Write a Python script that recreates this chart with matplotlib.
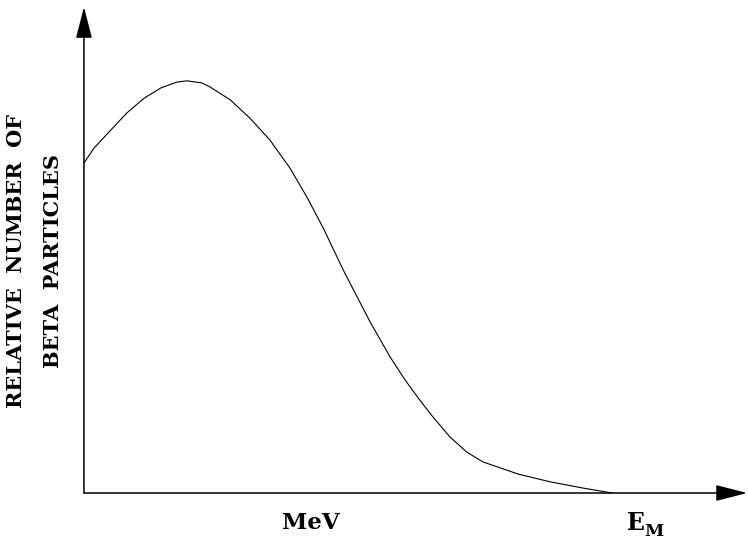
import matplotlib
matplotlib.use("Agg")
import matplotlib.pyplot as plt

# energy as fraction of E_M, relative number of beta particles (peak = 1)
energy = [0.000, 0.019, 0.051, 0.081, 0.114, 0.146, 0.176, 0.195, 0.223, 0.239,
          0.277, 0.314, 0.352, 0.390, 0.422, 0.453, 0.491, 0.542, 0.580, 0.608,
          0.636, 0.661, 0.693, 0.725, 0.756, 0.788, 0.822, 0.883, 0.945, 1.000]
counts = [0.799, 0.835, 0.879, 0.920, 0.956, 0.981, 0.995, 0.998, 0.993, 0.983,
          0.952, 0.908, 0.855, 0.787, 0.717, 0.642, 0.540, 0.414, 0.329, 0.274,
          0.225, 0.184, 0.136, 0.099, 0.075, 0.061, 0.046, 0.027, 0.012, 0.000]

ylabel_lines = ["RELATIVE  NUMBER  OF", "BETA  PARTICLES"]
xlabel = "MeV"
end_label = ("E", "M")

fig = plt.figure(figsize=(7.48, 5.41), dpi=100)
ax = fig.add_axes([0, 0, 1, 1])
ax.set_xlim(-0.159, 1.2576)
ax.set_ylim(-0.1162, 1.1937)
ax.axis("off")

font = dict(family="DejaVu Serif", fontweight="heavy", color="black")

# axes with arrow heads
arrow = dict(arrowstyle="-|>,head_length=1.95,head_width=0.5", mutation_scale=10,
             lw=1.1, color="black", shrinkA=0, shrinkB=0)
ax.annotate("", xy=(0, 1.177), xytext=(0, 0), arrowprops=arrow)
ax.annotate("", xy=(1.256, 0), xytext=(0, 0), arrowprops=arrow)

ax.plot(energy, counts, color="black", lw=0.8)

# labels
ax.text(-0.129, 0.562, ylabel_lines[0], rotation=90, ha="center", va="center", fontsize=15, **font)
ax.text(-0.059, 0.562, ylabel_lines[1], rotation=90, ha="center", va="center", fontsize=15, **font)
ax.text(0.43, -0.073, xlabel, ha="center", va="center", fontsize=16.5, **font)
ax.text(1.046, -0.073, end_label[0], ha="center", va="center", fontsize=17, **font)
ax.text(1.080, -0.093, end_label[1], ha="center", va="center", fontsize=12.5, **font)

fig.savefig("out.png", dpi=100)
